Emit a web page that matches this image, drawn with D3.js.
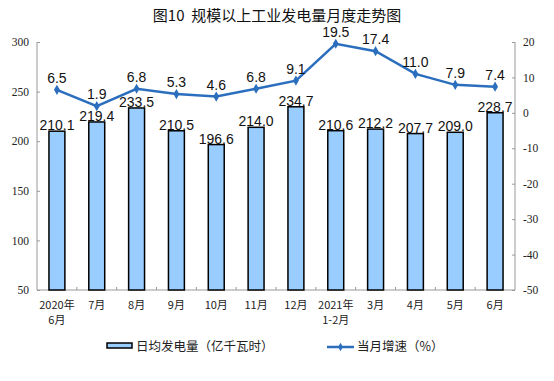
<!DOCTYPE html>
<html><head><meta charset="utf-8">
<script src="https://cdn.jsdelivr.net/npm/d3@7"></script>
<style>body{margin:0;background:#fff}svg{display:block}</style>
</head><body>
<svg id="c" width="554" height="381"></svg>
<script>
const categories = ["2020年|6月","7月","8月","9月","10月","11月","12月","2021年|1-2月","3月","4月","5月","6月"];
const dailyOutput = [210.1,219.4,233.5,210.5,196.6,214.0,234.7,210.6,212.2,207.7,209.0,228.7];
const growth = [6.5,1.9,6.8,5.3,4.6,6.8,9.1,19.5,17.4,11.0,7.9,7.4];
const leftTicks = [50,100,150,200,250,300];
const rightTicks = [-50,-40,-30,-20,-10,0,10,20];
const title = "图10  规模以上工业发电量月度走势图";
const legendBar = "日均发电量（亿千瓦时）";
const legendLine = "当月增速（%）";

const svg = d3.select("#c");
const L = 37, R = 515, T = 42, B = 290;
const x = d3.scaleBand().domain(categories).range([L, R]).paddingInner(0.6).paddingOuter(0.3);
const xb = d3.scaleBand().domain(categories).range([L, R]);
const yL = d3.scaleLinear().domain([50, 300]).range([B, T]);
const yR = d3.scaleLinear().domain([-50, 20]).range([B, T]);
const axisColor = "#999";
const tickFont = "'Liberation Serif','DejaVu Serif',serif";
const cjk = "'Noto Sans CJK SC',sans-serif";
const numFmt = d => String(d);

svg.append("text").attr("x", 277).attr("y", 21).attr("text-anchor", "middle")
  .style("white-space", "pre")
  .attr("font-family", cjk).attr("font-size", 15).attr("fill", "#111").text(title);

// left axis
const gl = svg.append("g").attr("transform", `translate(${L},0)`)
  .call(d3.axisRight(yL).tickValues(leftTicks).tickSize(3).tickFormat(numFmt));
gl.select(".domain").attr("stroke", axisColor).attr("d", `M0,${T}V${B}`);
gl.selectAll(".tick line").attr("stroke", axisColor);
gl.selectAll(".tick text").attr("x", -8).attr("text-anchor", "end")
  .attr("font-family", tickFont).attr("font-size", 11.5).attr("fill", "#222");

// right axis
const gr = svg.append("g").attr("transform", `translate(${R},0)`)
  .call(d3.axisLeft(yR).tickValues(rightTicks).tickSize(3).tickFormat(numFmt));
gr.select(".domain").attr("stroke", axisColor).attr("d", `M0,${T}V${B}`);
gr.selectAll(".tick line").attr("stroke", axisColor);
gr.selectAll(".tick text").attr("x", 8).attr("text-anchor", "start")
  .attr("font-family", tickFont).attr("font-size", 11.5).attr("fill", "#222");

// bottom axis
svg.append("line").attr("x1", L).attr("x2", R).attr("y1", B).attr("y2", B).attr("stroke", axisColor);
svg.selectAll(".xt").data(categories.slice(1)).enter().append("line")
  .attr("x1", d => xb(d)).attr("x2", d => xb(d)).attr("y1", B).attr("y2", B - 3).attr("stroke", axisColor);
const xl = svg.selectAll(".xl").data(categories).enter().append("text")
  .attr("text-anchor", "middle").attr("font-family", cjk).attr("font-size", 11).attr("fill", "#222")
  .attr("transform", d => `translate(${xb(d) + xb.bandwidth() / 2},${B + 19})`);
xl.each(function(d) {
  const parts = d.split("|");
  parts.forEach((p, i) => d3.select(this).append("tspan").attr("x", 0).attr("dy", i ? 15 : 0).text(p));
});

// bars
svg.selectAll(".bar").data(dailyOutput).enter().append("rect")
  .attr("x", (d, i) => x(categories[i])).attr("width", x.bandwidth())
  .attr("y", d => yL(d)).attr("height", d => B - yL(d))
  .attr("fill", "#99ccff").attr("stroke", "#000").attr("stroke-width", 1.5);
svg.selectAll(".bl").data(dailyOutput).enter().append("text")
  .attr("x", (d, i) => xb(categories[i]) + xb.bandwidth() / 2).attr("y", d => yL(d) - 1)
  .attr("text-anchor", "middle").attr("font-family", "'Liberation Sans',Arial,sans-serif")
  .attr("font-size", 14).attr("fill", "#111").text(d => d.toFixed(1));

// line
const lineGen = d3.line().x((d, i) => xb(categories[i]) + xb.bandwidth() / 2).y(d => yR(d));
svg.append("path").datum(growth).attr("d", lineGen).attr("fill", "none")
  .attr("stroke", "#2a6ebd").attr("stroke-width", 2.5);
svg.selectAll(".mk").data(growth).enter().append("path")
  .attr("d", d3.symbol(d3.symbolDiamond, 30))
  .attr("transform", (d, i) => `translate(${xb(categories[i]) + xb.bandwidth() / 2},${yR(d)})`)
  .attr("fill", "#2a6ebd");
svg.selectAll(".ll").data(growth).enter().append("text")
  .attr("x", (d, i) => xb(categories[i]) + xb.bandwidth() / 2).attr("y", d => yR(d) - 7)
  .attr("text-anchor", "middle").attr("font-family", "'Liberation Sans',Arial,sans-serif")
  .attr("font-size", 14).attr("fill", "#111").text(d => d.toFixed(1));

// legend
svg.append("rect").attr("x", 107).attr("y", 343).attr("width", 25).attr("height", 5)
  .attr("fill", "#99ccff").attr("stroke", "#000").attr("stroke-width", 1.5);
svg.append("text").attr("x", 136).attr("y", 351).attr("font-family", cjk).attr("font-size", 12.5)
  .attr("fill", "#222").text(legendBar);
svg.append("line").attr("x1", 327).attr("x2", 354).attr("y1", 347).attr("y2", 347)
  .attr("stroke", "#2a6ebd").attr("stroke-width", 2.5);
svg.append("path").attr("d", d3.symbol(d3.symbolDiamond, 20))
  .attr("transform", "translate(340.5,347)").attr("fill", "#2a6ebd");
svg.append("text").attr("x", 357).attr("y", 351).attr("font-family", cjk).attr("font-size", 12.5)
  .attr("fill", "#222").text(legendLine);
</script>
</body></html>
